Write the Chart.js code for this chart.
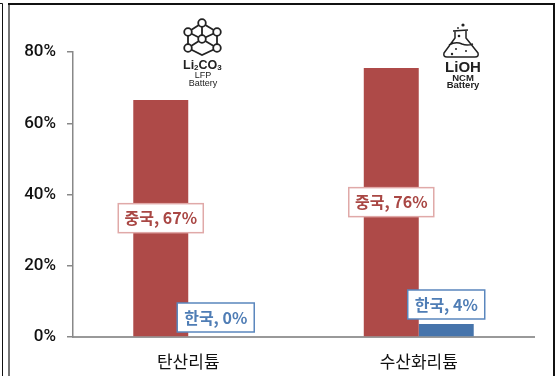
<!DOCTYPE html>
<html>
<head>
<meta charset="utf-8">
<style>
  html, body { margin: 0; padding: 0; background: #fff; }
  #wrap { position: relative; width: 558px; height: 376px; overflow: hidden; }
</style>
<script src="https://cdn.jsdelivr.net/npm/chart.js@4"></script>
</head>
<body>
<div id="wrap"><canvas id="myChart" width="558" height="376"></canvas></div>
<script>
// values
const categories = ['탄산리튬', '수산화리튬'];
const chinaValues = [66.5, 75.5];
const koreaValues = [0, 3.65];
const chinaLabels = ['중국, 67%', '중국, 76%'];
const koreaLabels = ['한국, 0%', '한국, 4%'];
const yTicks = [0, 20, 40, 60, 80];

const RED = '#ae4a48';
const BLUE = '#4674ab';
const LABEL_FONT = 'bold 16px "Noto Sans CJK KR"';

function drawLabelBox(ctx, text, cx, cy, w, h, textColor, borderColor) {
    ctx.save();
    ctx.fillStyle = '#fff';
    ctx.strokeStyle = borderColor;
    ctx.lineWidth = 1.5;
    ctx.fillRect(cx - w / 2, cy - h / 2, w, h);
    ctx.strokeRect(cx - w / 2, cy - h / 2, w, h);
    ctx.fillStyle = textColor;
    ctx.font = LABEL_FONT;
    ctx.textAlign = 'center';
    ctx.textBaseline = 'middle';
    ctx.fillText(text, cx, cy);
    ctx.restore();
}

// boxes sit on the bars: china centred in the bar, korea just above it
const barLabels = {
    id: 'barLabels',
    afterDatasetsDraw(chart) {
        const ctx = chart.ctx;
        const china = chart.getDatasetMeta(0).data;
        const korea = chart.getDatasetMeta(1).data;
        china.forEach((bar, i) => {
            drawLabelBox(ctx, chinaLabels[i], bar.x, (bar.y + bar.base) / 2, 85, 29, '#a94744', '#e0a9a8');
        });
        korea.forEach((bar, i) => {
            drawLabelBox(ctx, koreaLabels[i], bar.x, bar.y - 19.5, 77, 29, '#4f7db5', '#5a86bd');
        });
    }
};

function drawMoleculeIcon(ctx) {
    const nodes = [[202, 23], [188, 32], [217, 32], [202, 39], [188, 48], [217, 48]];
    const links = [[0, 1], [0, 2], [0, 3], [1, 3], [2, 3], [1, 4], [2, 5], [3, 4], [3, 5]];
    ctx.strokeStyle = '#222';
    ctx.lineWidth = 1.8;
    links.forEach(l => {
        ctx.beginPath();
        ctx.moveTo(nodes[l[0]][0], nodes[l[0]][1]);
        ctx.lineTo(nodes[l[1]][0], nodes[l[1]][1]);
        ctx.stroke();
    });
    ctx.beginPath();
    ctx.moveTo(188, 48);
    ctx.lineTo(202, 55);
    ctx.lineTo(217, 48);
    ctx.stroke();
    nodes.forEach(n => {
        ctx.beginPath();
        ctx.arc(n[0], n[1], 3.8, 0, Math.PI * 2);
        ctx.fillStyle = '#fff';
        ctx.fill();
        ctx.stroke();
    });
    ctx.fillStyle = '#222';
    ctx.textBaseline = 'alphabetic';
    ctx.textAlign = 'left';
    // Li2CO3 with small subscripts, laid out one run after the other
    let x = 183;
    [['Li', 12.5], ['2', 8], ['CO', 12.5], ['3', 8]].forEach(run => {
        ctx.font = 'bold ' + run[1] + 'px "Liberation Sans"';
        ctx.fillText(run[0], x, run[1] > 10 ? 68.5 : 69.5);
        x += ctx.measureText(run[0]).width;
    });
    ctx.textAlign = 'center';
    ctx.font = '9px "Liberation Sans"';
    ctx.fillText('LFP', 203, 78);
    ctx.fillText('Battery', 203, 86);
}

function drawFlaskIcon(ctx) {
    ctx.strokeStyle = '#222';
    ctx.fillStyle = '#222';
    ctx.lineWidth = 1.5;
    ctx.lineJoin = 'round';
    ctx.beginPath();
    ctx.moveTo(453, 31);
    ctx.lineTo(468, 30);
    ctx.moveTo(455, 31);
    ctx.lineTo(455, 38);
    ctx.lineTo(444, 53);
    ctx.quadraticCurveTo(443, 57, 447, 57);
    ctx.lineTo(475, 57);
    ctx.quadraticCurveTo(479, 57, 478, 53);
    ctx.lineTo(466, 38);
    ctx.lineTo(466, 31);
    ctx.moveTo(449, 45);
    ctx.quadraticCurveTo(456, 41, 462, 44);
    ctx.quadraticCurveTo(467, 46, 473, 44);
    ctx.stroke();
    [[463, 25, 1.6], [458, 28, 0.9], [459, 36, 1.3], [456, 49, 1], [466, 51, 1], [452, 54, 1.2]].forEach(d => {
        ctx.beginPath();
        ctx.arc(d[0], d[1], d[2], 0, Math.PI * 2);
        ctx.fill();
    });
    ctx.textAlign = 'center';
    ctx.textBaseline = 'alphabetic';
    ctx.font = 'bold 15px "Liberation Sans"';
    ctx.fillText('LiOH', 463, 71.5);
    ctx.font = 'bold 9.5px "Liberation Sans"';
    ctx.fillText('NCM', 463, 81);
    ctx.fillText('Battery', 463, 88);
}

const decorations = {
    id: 'decorations',
    beforeDraw(chart) {
        const ctx = chart.ctx;
        ctx.save();
        // picture frame
        ctx.strokeStyle = '#111';
        ctx.lineWidth = 1;
        ctx.beginPath();
        ctx.moveTo(0, 3.5);
        ctx.lineTo(2.5, 3.5);
        ctx.lineTo(2.5, 376);
        ctx.stroke();
        ctx.strokeStyle = '#777';
        ctx.lineWidth = 2;
        ctx.beginPath();
        ctx.moveTo(9, 376);
        ctx.lineTo(9, 4);
        ctx.stroke();
        ctx.strokeStyle = '#111';
        ctx.beginPath();
        ctx.moveTo(8, 4);
        ctx.lineTo(554, 4);
        ctx.lineTo(554, 376);
        ctx.stroke();
        ctx.restore();
    },
    afterDraw(chart) {
        const ctx = chart.ctx;
        ctx.save();
        drawMoleculeIcon(ctx);
        drawFlaskIcon(ctx);
        ctx.restore();
    }
};

new Chart(document.getElementById('myChart'), {
    type: 'bar',
    data: {
        labels: categories,
        datasets: [
            { label: '중국', data: chinaValues, backgroundColor: RED },
            { label: '한국', data: koreaValues, backgroundColor: BLUE }
        ]
    },
    options: {
        responsive: false,
        animation: false,
        layout: { padding: { top: 52, right: 24, left: 0, bottom: 0 } },
        plugins: {
            legend: { display: false },
            tooltip: { enabled: false }
        },
        datasets: { bar: { barPercentage: 1, categoryPercentage: 0.477 } },
        scales: {
            x: {
                grid: { display: false },
                border: { color: '#999', width: 2 },
                ticks: { color: '#111', padding: 6, font: { family: '"Noto Sans CJK KR"', size: 17 } },
                afterFit(scale) { scale.height = 39; }
            },
            y: {
                min: 0,
                max: 80,
                afterBuildTicks(scale) { scale.ticks = yTicks.map(v => ({ value: v })); },
                grid: { drawOnChartArea: false, color: '#888', tickLength: 6, lineWidth: 1.5 },
                border: { color: '#888', width: 1.5 },
                ticks: {
                    color: '#111',
                    padding: 11,
                    font: { family: 'Roboto', size: 17, weight: '500' },
                    callback: v => v + '%'
                },
                afterFit(scale) { scale.width = 73; }
            }
        }
    },
    plugins: [decorations, barLabels]
});
</script>
</body>
</html>
